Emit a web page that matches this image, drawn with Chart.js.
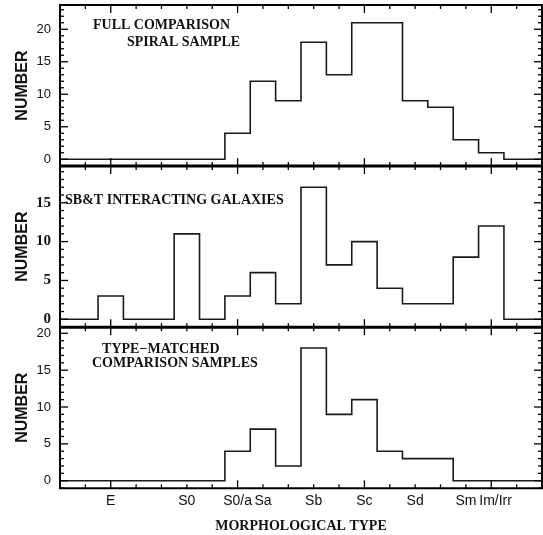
<!DOCTYPE html>
<html>
<head>
<meta charset="utf-8">
<script src="https://cdn.jsdelivr.net/npm/chart.js@4"></script>
<style>
html,body{margin:0;padding:0;background:#fff;}
#wrap{width:543px;height:535px;position:relative;}
canvas{display:block;}
</style>
</head>
<body>
<div id="wrap"><canvas id="c" width="543" height="535"></canvas></div>
<script>
// ---- data (bin centres = morphological T-type) ----
const binTypes    = [-7,-6,-5,-4,-3,-2,-1, 0, 1, 2, 3, 4, 5, 6, 7, 8, 9,10,11];
const fullSample  = [ 0, 0, 0, 0, 0, 0, 0, 4,12, 9,18,13,21,21, 9, 8, 3, 1, 0];
const interacting = [ 0, 0, 3, 0, 0,11, 0, 3, 6, 2,17, 7,10, 4, 2, 2, 8,12, 0];
const typeMatched = [ 0, 0, 0, 0, 0, 0, 0, 4, 7, 2,18, 9,11, 4, 3, 3, 0, 0, 0];
const tickTypes = [-5, -2, 0, 1, 3, 5, 7, 9, 10];
const tickNames = ['E', 'S0', 'S0/a', 'Sa', 'Sb', 'Sc', 'Sd', 'Sm', 'Im/Irr'];
const yTicksTop = [0, 5, 10, 15, 20];
const yTicksMid = [0, 5, 10, 15];
const yTicksBot = [0, 5, 10, 15, 20];
const panelTitles = [
  ['FULL COMPARISON', 'SPIRAL SAMPLE'],
  ['SB&T INTERACTING GALAXIES'],
  ['TYPE\u2212MATCHED', 'COMPARISON SAMPLES']
];
const xTitle = 'MORPHOLOGICAL TYPE';
const yTitle = 'NUMBER';

const X_MIN = -7, X_MAX = 12;
// small horizontal nudge of crowded tick labels (label placement only)
const labelNudge = { 10: 0.17 };

function stepPoints(values) {
  const pts = binTypes.map((t, i) => ({ x: Math.max(t - 0.5, X_MIN), y: values[i] }));
  pts.push({ x: X_MAX, y: values[values.length - 1] });
  return pts;
}

const sansTick = { family: '"Liberation Sans", Arial, sans-serif', size: 13 };
const serifTick = { family: '"Liberation Serif", "Times New Roman", serif', size: 15, weight: 'bold' };

const panels = [
  { id: 'yTop', values: fullSample, min: -1.05, max: 23.73, ticks: yTicksTop, font: sansTick, weight: 3,
    notes: [{ text: panelTitles[0][0], x: -5.70, y: 20.66 }, { text: panelTitles[0][1], x: -4.36, y: 18.05 }] },
  { id: 'yMid', values: interacting, min: -1.02, max: 19.72, ticks: yTicksMid, font: serifTick, weight: 2,
    notes: [{ text: panelTitles[1][0], x: -6.80, y: 15.35 }] },
  { id: 'yBot', values: typeMatched, min: -1.03, max: 20.83, ticks: yTicksBot, font: sansTick, weight: 1,
    notes: [{ text: panelTitles[2][0], x: -5.34, y: 17.87 }, { text: panelTitles[2][1], x: -5.74, y: 15.97 }] }
];

const scales = {
  x: {
    type: 'linear', position: 'bottom', min: X_MIN, max: X_MAX,
    afterBuildTicks: (s) => { s.ticks = tickTypes.map(v => ({ value: v + (labelNudge[v] || 0) })); },
    afterFit: (s) => { s.height = 46.7; s.paddingLeft = 0; s.paddingRight = 0; },
    grid: { display: false, drawTicks: false },
    border: { display: false },
    ticks: {
      autoSkip: false, maxRotation: 0, minRotation: 0, padding: 4, color: '#111',
      font: { family: '"Liberation Sans", Arial, sans-serif', size: 14 },
      callback: (v, i) => tickNames[i]
    },
    title: {
      display: true, text: xTitle, color: '#111',
      font: { family: '"Liberation Serif", "Times New Roman", serif', size: 14, weight: 'bold' },
      padding: { top: 0, bottom: 0 }
    }
  }
};
panels.forEach(p => {
  scales[p.id] = {
    type: 'linear', position: 'left', stack: 'panels', stackWeight: 1, weight: p.weight,
    min: p.min, max: p.max,
    afterBuildTicks: (s) => { s.ticks = p.ticks.map(v => ({ value: v })); },
    afterFit: (s) => { s.width = 60; s.paddingTop = 0; s.paddingBottom = 0; },
    grid: { display: false, drawTicks: false },
    border: { display: false },
    ticks: { padding: 9, color: '#111', font: p.font },
    title: {
      display: true, text: yTitle, color: '#111',
      font: { family: '"Liberation Sans", Arial, sans-serif', size: 16, weight: 'bold' },
      padding: { top: 13, bottom: 0 }
    }
  };
});

const framePlugin = {
  id: 'frame',
  afterDatasetsDraw(chart) {
    const ctx = chart.ctx;
    const xs = chart.scales.x;
    const L = xs.left, R = xs.right;
    const line = (x1, y1, x2, y2) => { ctx.beginPath(); ctx.moveTo(x1, y1); ctx.lineTo(x2, y2); ctx.stroke(); };
    ctx.save();
    ctx.strokeStyle = '#000';
    ctx.lineCap = 'butt';
    panels.forEach(p => {
      const ys = chart.scales[p.id];
      const top = ys.top, bot = ys.bottom;
      ctx.lineWidth = 1.3;
      for (let t = Math.ceil(xs.min); t <= xs.max; t++) {
        const px = xs.getPixelForValue(t);
        const len = (t % 5 === 0) ? 8 : 4;
        line(px, top, px, top + len);
        line(px, bot, px, bot - len);
      }
      for (let v = Math.ceil(ys.min); v <= Math.floor(ys.max); v++) {
        const py = ys.getPixelForValue(v);
        const len = (v % 5 === 0) ? 8 : 4;
        line(L, py, L + len, py);
        line(R, py, R - len, py);
      }
      // annotations
      ctx.fillStyle = '#111';
      ctx.font = 'bold 14px "Liberation Serif", "Times New Roman", serif';
      ctx.textAlign = 'left';
      ctx.textBaseline = 'middle';
      p.notes.forEach(n => ctx.fillText(n.text, xs.getPixelForValue(n.x), ys.getPixelForValue(n.y)));
    });
    // frames
    const yT = chart.scales.yTop, yM = chart.scales.yMid, yB = chart.scales.yBot;
    ctx.lineWidth = 2;
    line(L - 1, yT.top, R + 1, yT.top);
    line(L - 1, yB.bottom, R + 1, yB.bottom);
    line(L, yT.top, L, yB.bottom);
    line(R, yT.top, R, yB.bottom);
    ctx.lineWidth = 3;
    line(L, yT.bottom, R, yT.bottom);
    line(L, yM.bottom, R, yM.bottom);
    ctx.restore();
  }
};

new Chart(document.getElementById('c'), {
  type: 'line',
  data: {
    datasets: panels.map(p => ({
      data: stepPoints(p.values),
      yAxisID: p.id, xAxisID: 'x',
      stepped: true,
      borderColor: '#1a1a1a', borderWidth: 1.6,
      pointRadius: 0, fill: false, tension: 0
    }))
  },
  options: {
    responsive: false, animation: false, devicePixelRatio: 1,
    layout: { padding: { left: 0, right: 1, top: 5, bottom: 0 } },
    plugins: { legend: { display: false }, tooltip: { enabled: false } },
    scales: scales
  },
  plugins: [framePlugin]
});
</script>
</body>
</html>
